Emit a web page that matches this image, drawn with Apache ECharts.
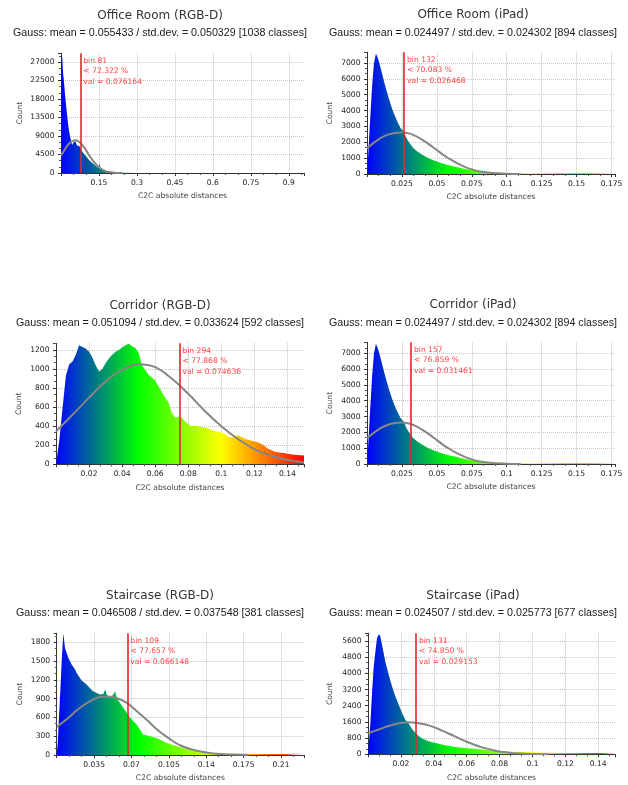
<!DOCTYPE html>
<html>
<head>
<meta charset="utf-8">
<title>C2C absolute distances</title>
<script src="https://cdn.jsdelivr.net/npm/echarts@6.0.0/dist/echarts.min.js"></script>
<style>
  html, body { margin: 0; padding: 0; background: #fff; }
  #chart { width: 628px; height: 785px; }
</style>
</head>
<body>
<div id="chart"></div>
<script>
// panel texts
const titles = ['Office Room (RGB-D)', 'Office Room (iPad)', 'Corridor (RGB-D)',
  'Corridor (iPad)', 'Staircase (RGB-D)', 'Staircase (iPad)'];
const gaussTexts = [
  'Gauss: mean = 0.055433 / std.dev. = 0.050329 [1038 classes]',
  'Gauss: mean = 0.024497 / std.dev. = 0.024302 [894 classes]',
  'Gauss: mean = 0.051094 / std.dev. = 0.033624 [592 classes]',
  'Gauss: mean = 0.024497 / std.dev. = 0.024302 [894 classes]',
  'Gauss: mean = 0.046508 / std.dev. = 0.037548 [381 classes]',
  'Gauss: mean = 0.024507 / std.dev. = 0.025773 [677 classes]'
];
const binNumbers = [81, 132, 294, 157, 109, 131];
const binPercents = ['72.322', '70.083', '77.868', '76.859', '77.657', '74.850'];
const binValues = ['0.076164', '0.026468', '0.074636', '0.031461', '0.066148', '0.029153'];

// Office Room (RGB-D)
const officeRgbdX = [0, 0.002, 0.005, 0.008, 0.012, 0.016, 0.020, 0.024, 0.028, 0.032,
  0.036, 0.040, 0.044, 0.048, 0.052, 0.056, 0.060, 0.064, 0.068, 0.072,
  0.08, 0.09, 0.10, 0.11, 0.12, 0.13, 0.14, 0.148, 0.152, 0.156,
  0.165, 0.18, 0.20, 0.22, 0.25, 0.30, 0.40, 0.60, 0.96];
const officeRgbdCount = [29000, 29000, 28000, 24500, 22000, 19000, 16500, 14200, 12000, 10200,
  8900, 7800, 6800, 7300, 7700, 7800, 7400, 6600, 7000, 6600,
  5600, 4700, 4000, 3200, 2600, 2100, 1600, 1300, 2300, 1200,
  800, 450, 220, 120, 70, 30, 10, 5, 0];
const officeRgbdGaussX = [0, 0.01, 0.02, 0.03, 0.04, 0.055, 0.07, 0.085, 0.1, 0.115,
  0.13, 0.145, 0.16, 0.175, 0.19, 0.21, 0.24];
const officeRgbdGaussY = [4300, 5200, 6200, 7000, 7550, 7950, 7650, 6700, 5450, 3950,
  2700, 1650, 930, 470, 220, 70, 0];

// Office Room (iPad)
const officeIpadX = [0, 0.0008, 0.0015, 0.0025, 0.0037, 0.005, 0.0064, 0.008, 0.010, 0.012,
  0.014, 0.016, 0.018, 0.020, 0.022, 0.024, 0.0265, 0.028, 0.030, 0.033,
  0.036, 0.040, 0.044, 0.048, 0.052, 0.056, 0.060, 0.065, 0.070, 0.075,
  0.080, 0.085, 0.090, 0.100, 0.120, 0.140, 0.160, 0.1775];
const officeIpadCount = [0, 1100, 2200, 3800, 5600, 7000, 7600, 7250, 6600, 5900,
  5250, 4650, 4100, 3650, 3250, 2900, 2650, 2300, 2000, 1650,
  1420, 1200, 1000, 850, 720, 620, 520, 420, 320, 230,
  160, 110, 90, 70, 50, 40, 30, 20];
const officeIpadGaussX = [0, 0.005, 0.01, 0.015, 0.02, 0.025, 0.03, 0.035, 0.04, 0.045,
  0.05, 0.055, 0.06, 0.065, 0.07, 0.075, 0.08, 0.085, 0.09, 0.1, 0.11];
const officeIpadGaussY = [1620, 1980, 2280, 2480, 2590, 2620, 2560, 2390, 2140, 1840,
  1510, 1180, 900, 650, 450, 290, 180, 110, 60, 20, 0];

// Corridor (RGB-D), one reading every 0.002
const corridorRgbdStep = 0.002;
const corridorRgbdCount = [0, 250, 600, 930, 1050, 1080, 1150, 1250, 1230, 1215,
  1180, 1120, 1040, 975, 1000, 1060, 1110, 1150, 1180, 1200,
  1225, 1250, 1265, 1240, 1220, 1170, 1040, 990, 940, 910,
  880, 820, 760, 700, 650, 540, 490, 500, 495, 450,
  420, 400, 405, 400, 390, 385, 378, 360, 350, 342,
  335, 320, 290, 280, 290, 305, 290, 270, 258, 250,
  240, 232, 215, 195, 165, 150, 135, 126, 122, 118,
  110, 105, 100, 98, 95, 92];
const corridorRgbdGaussX = [0, 0.01, 0.02, 0.03, 0.04, 0.05, 0.06, 0.07, 0.08, 0.09,
  0.1, 0.11, 0.12, 0.13, 0.14, 0.15];
const corridorRgbdGaussY = [345, 520, 700, 870, 990, 1050, 1020, 900, 740, 560,
  400, 265, 160, 90, 45, 20];

// Corridor (iPad): the picture shows the same histogram and Gaussian as Office Room (iPad)
const corridorIpadX = officeIpadX;
const corridorIpadCount = officeIpadCount;
const corridorIpadGaussX = officeIpadGaussX;
const corridorIpadGaussY = officeIpadGaussY;

// Staircase (RGB-D)
const stairRgbdX = [0, 0.001, 0.002, 0.003, 0.004, 0.005, 0.0062, 0.0078, 0.0093, 0.011,
  0.0125, 0.014, 0.0156, 0.0172, 0.0187, 0.0203, 0.0218, 0.0234, 0.025, 0.028,
  0.031, 0.034, 0.0375, 0.0406, 0.0437, 0.0453, 0.0468, 0.05, 0.053, 0.0547,
  0.0562, 0.0593, 0.0625, 0.0656, 0.0672, 0.0687, 0.0718, 0.075, 0.078, 0.081,
  0.084, 0.0875, 0.0906, 0.0937, 0.0968, 0.1, 0.103, 0.106, 0.1125, 0.119,
  0.125, 0.131, 0.1375, 0.144, 0.15, 0.166, 0.18, 0.197, 0.2125, 0.2315];
const stairRgbdCount = [0, 200, 550, 900, 1250, 1600, 1940, 1711, 1631, 1551,
  1498, 1444, 1418, 1364, 1311, 1285, 1231, 1189, 1178, 1125,
  1071, 1018, 991, 965, 975, 1045, 965, 911, 965, 1018,
  911, 831, 751, 671, 640, 600, 538, 485, 405, 325,
  314, 298, 282, 272, 245, 218, 192, 176, 139, 112,
  85, 69, 48, 37, 27, 21, 16, 16, 16, 21];
const stairRgbdGaussX = [0, 0.01, 0.02, 0.03, 0.04, 0.047, 0.055, 0.065, 0.075, 0.085,
  0.095, 0.105, 0.115, 0.125, 0.135, 0.145, 0.155, 0.165, 0.18];
const stairRgbdGaussY = [450, 580, 730, 850, 925, 935, 915, 840, 700, 550,
  390, 265, 160, 95, 55, 28, 14, 6, 0];

// Staircase (iPad)
const stairIpadX = [0, 0.0004, 0.0014, 0.0024, 0.0034, 0.0045, 0.0055, 0.0067, 0.0075, 0.0085,
  0.0095, 0.0105, 0.0126, 0.0146, 0.0166, 0.0187, 0.0207, 0.0227, 0.0247, 0.0268,
  0.0288, 0.0308, 0.0329, 0.0369, 0.041, 0.047, 0.053, 0.059, 0.0653, 0.0714,
  0.0775, 0.0876, 0.0978, 0.108, 0.118, 0.128, 0.138, 0.1502];
const stairIpadCount = [0, 0, 1465, 2946, 4263, 5086, 5745, 5950, 5827, 5415,
  5004, 4592, 3934, 3358, 2864, 2453, 2041, 1712, 1520, 1250,
  1070, 900, 780, 645, 560, 445, 365, 315, 280, 230,
  180, 130, 100, 80, 66, 66, 66, 66];
const stairIpadGaussX = [0, 0.005, 0.01, 0.015, 0.02, 0.025, 0.03, 0.035, 0.04, 0.045,
  0.05, 0.055, 0.06, 0.065, 0.07, 0.075, 0.08, 0.085, 0.09, 0.1, 0.11];
const stairIpadGaussY = [1020, 1180, 1330, 1460, 1550, 1580, 1550, 1470, 1340, 1170,
  990, 800, 620, 460, 330, 220, 140, 90, 50, 15, 0];

const corridorRgbdX = corridorRgbdCount.map((c, i) => +(i * corridorRgbdStep).toFixed(3));

const panels = [
  { x: officeRgbdX, y: officeRgbdCount, gx: officeRgbdGaussX, gy: officeRgbdGaussY },
  { x: officeIpadX, y: officeIpadCount, gx: officeIpadGaussX, gy: officeIpadGaussY },
  { x: corridorRgbdX, y: corridorRgbdCount, gx: corridorRgbdGaussX, gy: corridorRgbdGaussY },
  { x: corridorIpadX, y: corridorIpadCount, gx: corridorIpadGaussX, gy: corridorIpadGaussY },
  { x: stairRgbdX, y: stairRgbdCount, gx: stairRgbdGaussX, gy: stairRgbdGaussY },
  { x: stairIpadX, y: stairIpadCount, gx: stairIpadGaussX, gy: stairIpadGaussY }
];

// plot boxes and axis ranges
const layouts = [
  { left: 61, top: 53.3, width: 243, height: 119.7, xMax: 0.96, xStep: 0.15, yMax: 29100, yStep: 4500, nameGap: 37, cx: 160, ty: 15.7 },
  { left: 367, top: 52.3, width: 248, height: 121.7, xMax: 0.1775, xStep: 0.025, yMax: 7675, yStep: 1000, nameGap: 32.5, cx: 473, ty: 15.3 },
  { left: 56, top: 343.3, width: 248, height: 121, xMax: 0.15, xStep: 0.02, yMax: 1270, yStep: 200, nameGap: 32.5, cx: 160, ty: 305.7 },
  { left: 367, top: 342.3, width: 248, height: 121.7, xMax: 0.1775, xStep: 0.025, yMax: 7690, yStep: 1000, nameGap: 32.5, cx: 473, ty: 305.3 },
  { left: 56.7, top: 633.3, width: 247.3, height: 121.7, xMax: 0.2315, xStep: 0.035, yMax: 1944, yStep: 300, nameGap: 33, cx: 160, ty: 596 },
  { left: 368, top: 633.3, width: 247, height: 121, xMax: 0.1502, xStep: 0.02, yMax: 5980, yStep: 800, nameGap: 33.5, cx: 473, ty: 596 }
];

const smallFont = { fontFamily: 'DejaVu Sans', fontSize: 7.6 };
const scaleColors = {
  type: 'linear', x: 0, y: 0, x2: 1, y2: 0,
  colorStops: [
    { offset: 0, color: '#0000ff' },
    { offset: 1 / 3, color: '#00ff00' },
    { offset: 2 / 3, color: '#ffff00' },
    { offset: 1, color: '#ff0000' }
  ]
};

function pairs(xs, ys) {
  return xs.map((x, i) => [x, ys[i]]);
}

const option = { animation: false, title: [], grid: [], xAxis: [], yAxis: [], series: [] };

panels.forEach((p, i) => {
  const L = layouts[i];
  option.title.push({
    text: titles[i], left: L.cx, top: L.ty - 6, textAlign: 'center', padding: 0,
    textStyle: { fontFamily: 'DejaVu Sans', fontSize: 12, fontWeight: 'normal', color: '#333' }
  });
  option.title.push({
    text: gaussTexts[i], left: L.cx, top: L.ty + 17.4 - 5.4, textAlign: 'center', padding: 0,
    textStyle: { fontFamily: 'Liberation Sans', fontSize: 10.7, fontWeight: 'normal', color: '#1a1a1a' }
  });
  option.grid.push({ left: L.left, top: L.top, width: L.width, height: L.height });
  option.xAxis.push({
    gridIndex: i, type: 'value', min: 0, max: L.xMax, interval: L.xStep,
    name: 'C2C absolute distances', nameLocation: 'middle', nameGap: 19.5,
    nameTextStyle: Object.assign({ color: '#444' }, smallFont),
    axisLine: { lineStyle: { color: '#333', width: 1 } },
    axisTick: { length: 3, lineStyle: { color: '#333' } },
    minorTick: { show: true, splitNumber: 3, length: 2, lineStyle: { color: '#555' } },
    axisLabel: Object.assign({ showMinLabel: false, showMaxLabel: false, margin: 6, color: '#222' }, smallFont),
    splitLine: { show: true, showMinLine: false, showMaxLine: false, lineStyle: { type: 'dotted', color: '#c4c4c4' } }
  });
  option.yAxis.push({
    gridIndex: i, type: 'value', min: 0, max: L.yMax, interval: L.yStep,
    name: 'Count', nameLocation: 'middle', nameGap: L.nameGap, nameRotate: 90,
    nameTextStyle: Object.assign({ color: '#444' }, smallFont),
    axisLine: { show: true, lineStyle: { color: '#333', width: 1 } },
    axisTick: { show: true, length: 3, lineStyle: { color: '#333' } },
    minorTick: { show: true, splitNumber: 3, length: 2, lineStyle: { color: '#555' } },
    axisLabel: Object.assign({
      showMaxLabel: false, margin: 6.5, color: '#222',
      formatter: (v) => String(v)
    }, smallFont),
    splitLine: { show: true, showMinLine: false, showMaxLine: false, lineStyle: { type: 'dotted', color: '#c4c4c4' } }
  });
  option.series.push({
    type: 'line', xAxisIndex: i, yAxisIndex: i, data: pairs(p.x, p.y),
    symbol: 'none', z: 2,
    lineStyle: { width: 0, opacity: 0 },
    areaStyle: { color: scaleColors, opacity: 1 },
    markLine: {
      silent: true, symbol: ['none', 'none'], precision: 6, label: { show: false },
      lineStyle: { color: '#e3262a', width: 1.6, type: 'solid' },
      data: [{ xAxis: +binValues[i] }]
    },
    markPoint: {
      silent: true, symbol: 'rect', symbolSize: 1,
      itemStyle: { color: 'rgba(0,0,0,0)' },
      label: Object.assign({
        show: true, position: [3.5, 3], align: 'left', verticalAlign: 'top',
        color: '#ff4444', lineHeight: 10.3,
        formatter: 'bin ' + binNumbers[i] + '\n< ' + binPercents[i] + ' %\nval = ' + binValues[i]
      }, smallFont),
      data: [{ coord: [+binValues[i], L.yMax] }]
    }
  });
  option.series.push({
    type: 'line', xAxisIndex: i, yAxisIndex: i, data: pairs(p.gx, p.gy),
    symbol: 'none', smooth: 0.35, z: 3,
    lineStyle: { color: '#868686', width: 2 }
  });
});

const chart = echarts.init(document.getElementById('chart'));
chart.setOption(option);
</script>
</body>
</html>
